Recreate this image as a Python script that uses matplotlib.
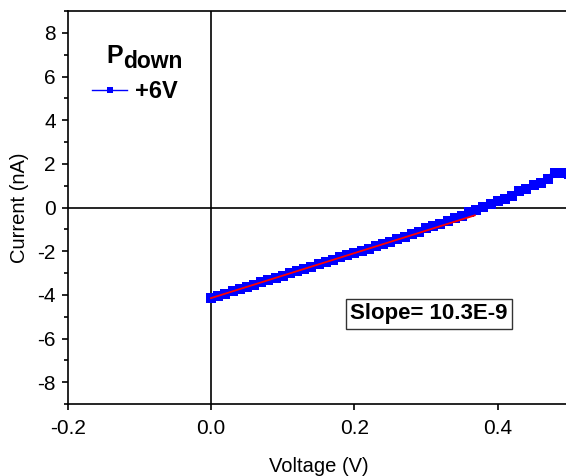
import matplotlib
matplotlib.use('Agg')
import matplotlib.pyplot as plt
from matplotlib.ticker import MultipleLocator

plt.rcParams['font.family'] = ['Liberation Sans', 'DejaVu Sans']
plt.rcParams['axes.unicode_minus'] = False

# measured I-V data (+6V, P_down)
voltage = [0.00, 0.01, 0.02, 0.03, 0.04, 0.05, 0.06, 0.07, 0.08, 0.09,
           0.10, 0.11, 0.12, 0.13, 0.14, 0.15, 0.16, 0.17, 0.18, 0.19,
           0.20, 0.21, 0.22, 0.23, 0.24, 0.25, 0.26, 0.27, 0.28, 0.29,
           0.30, 0.31, 0.32, 0.33, 0.34, 0.35, 0.36, 0.37, 0.38, 0.39,
           0.40, 0.41, 0.42, 0.43, 0.44, 0.45, 0.46, 0.47, 0.48, 0.49, 0.50]
current = [-4.15, -4.05, -3.94, -3.84, -3.73, -3.64, -3.53, -3.43, -3.33, -3.23,
           -3.13, -3.02, -2.91, -2.81, -2.71, -2.60, -2.50, -2.40, -2.29, -2.19,
           -2.08, -1.98, -1.88, -1.77, -1.66, -1.56, -1.45, -1.33, -1.22, -1.11,
           -0.93, -0.84, -0.74, -0.62, -0.47, -0.38, -0.22, -0.10, 0.04, 0.14,
           0.28, 0.40, 0.52, 0.76, 0.84, 1.04, 1.12, 1.32, 1.57, 1.60, 1.55]

# linear fit (nA/V and nA)
fit_slope = 10.3
fit_intercept = -4.15
fit_range = [0.0, 0.368]

xticks = [-0.2, 0.0, 0.2, 0.4]
yticks = [-8, -6, -4, -2, 0, 2, 4, 6, 8]

fig = plt.figure(figsize=(5.66, 4.76), dpi=100)
ax = fig.add_axes([67.7 / 566, 72 / 476, 501.7 / 566, 393 / 476])

ax.axhline(0, color='black', lw=1.2, zorder=1)
ax.axvline(0, color='black', lw=1.2, zorder=1)

ax.plot(voltage, current, 's-', color='#0000ff', ms=6.5, lw=4, mew=0,
        label='+6V', zorder=2)
fit_y = [fit_intercept + fit_slope * v for v in fit_range]
ax.plot(fit_range, fit_y, color='#ff0000', lw=1.3, zorder=3)

ax.set_xlim(-0.2, 0.5)
ax.set_ylim(-9, 9)
ax.set_xticks(xticks)
ax.set_xticklabels(['-0.2', '0.0', '0.2', '0.4'])
ax.set_yticks(yticks)
ax.yaxis.set_minor_locator(MultipleLocator(1))
ax.tick_params(which='major', direction='out', length=4.5, width=1.2, labelsize=15)
ax.tick_params(which='minor', direction='out', length=2.8, width=1.2)
ax.tick_params(axis='x', pad=6)
ax.tick_params(axis='y', pad=4)
for s in ax.spines.values():
    s.set_linewidth(1.2)

ax.set_xlabel('Voltage (V)', fontsize=14.5, labelpad=14)
ax.set_ylabel('Current (nA)', fontsize=14.5, labelpad=6)

fig.text(106 / 566, 1 - 63 / 476, 'P', fontsize=18, fontweight='bold', va='baseline')
fig.text(123 / 566, 1 - 68 / 476, 'down', fontsize=16.5, fontweight='bold', va='baseline')

# legend handle with a thin line, data line is drawn thick
handle, = ax.plot([], [], 's-', color='#0000ff', ms=5, lw=1, mew=0)
ax.legend([handle], ['+6V'], loc='center left', bbox_to_anchor=(92 / 566, 1 - 92 / 476),
          bbox_transform=fig.transFigure, frameon=False, borderpad=0,
          borderaxespad=0, handlelength=1.5, handletextpad=0.3,
          prop={'weight': 'bold', 'size': 17})

ax.text(0.304, -4.86, 'Slope= 10.3E-9', fontsize=16, fontweight='bold',
        ha='center', va='center',
        bbox=dict(boxstyle='square,pad=0.2', fc='white', ec='#333333', lw=1))

fig.savefig('out.png', dpi=100, facecolor='white')
